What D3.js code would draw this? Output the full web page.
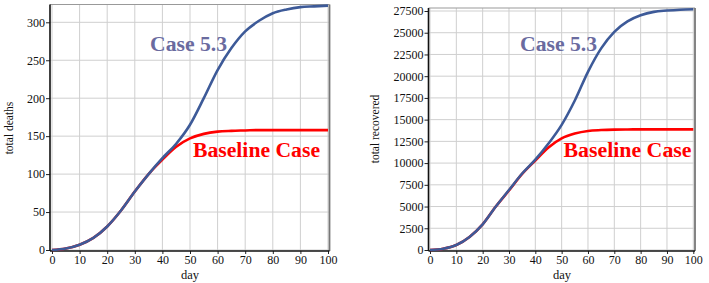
<!DOCTYPE html>
<html>
<head>
<meta charset="utf-8">
<script src="https://cdn.jsdelivr.net/npm/d3@7"></script>
<style>
  body { margin: 0; background: #fff; }
  svg { display: block; }
  .grid line { stroke: #cfcfcf; stroke-width: 1; }
</style>
</head>
<body>
<div class="container"></div>
<script>
const WIDTH = 709;
const HEIGHT = 283;
const SERIF = '"Liberation Serif", "Times New Roman", Times, "DejaVu Serif", serif';

var days = [0, 5, 10, 15, 20, 25, 30, 35, 40, 45, 50, 55, 60, 65, 70, 75, 80, 85, 90, 95, 100];

var deathsCase53 = [0, 2, 7, 16, 31, 52, 77, 100, 121, 140, 165, 200, 237, 266, 288, 302, 312, 317, 320, 321, 322];
var deathsBaseline = [0, 2, 7, 16, 31, 52, 77, 100, 119, 136, 147, 153, 156, 157, 157.5, 158, 158, 158, 158, 158, 158];

var recoveredCase53 = [0, 150, 575, 1500, 2950, 5000, 6900, 8800, 10400, 12250, 14400, 17200, 20500, 23200, 25100, 26300, 27000, 27400, 27550, 27650, 27700];
var recoveredBaseline = [0, 150, 575, 1500, 2950, 5000, 6850, 8750, 10300, 11800, 12850, 13400, 13700, 13800, 13850, 13870, 13880, 13880, 13880, 13880, 13880];

var dayTicks = [0, 10, 20, 30, 40, 50, 60, 70, 80, 90, 100];
var deathTicks = [0, 50, 100, 150, 200, 250, 300];
var recoveredTicks = [0, 2500, 5000, 7500, 10000, 12500, 15000, 17500, 20000, 22500, 25000, 27500];

var translate = function(x, y) {
    return `translate(${x},${y})`;
};

var drawPanel = function(svg, cfg) {
    let xScale = d3.scaleLinear().domain([0, 100]).range(cfg.xRange);
    let yScale = d3.scaleLinear().domain([0, cfg.yMax]).range(cfg.yRange);
    let [bx0, bx1, by0, by1] = cfg.box;

    let g = svg.append('g');

    // grid
    let grid = g.append('g').classed('grid', true);
    grid.selectAll('.gx').data(dayTicks).enter().append('line')
        .attr('x1', d => xScale(d)).attr('x2', d => xScale(d))
        .attr('y1', by0).attr('y2', by1);
    grid.selectAll('.gy').data(cfg.yTicks).enter().append('line')
        .attr('x1', bx0).attr('x2', bx1)
        .attr('y1', d => yScale(d)).attr('y2', d => yScale(d));

    // top / right frame
    g.append('line').attr('x1', bx0).attr('x2', bx1).attr('y1', by0).attr('y2', by0)
        .attr('stroke', '#999').attr('stroke-width', 1);
    g.append('line').attr('x1', bx1).attr('x2', bx1).attr('y1', by0).attr('y2', by1)
        .attr('stroke', '#777').attr('stroke-width', 1.8);

    // axes
    let xAxis = d3.axisBottom(xScale).tickValues(dayTicks).tickSize(3).tickPadding(1).tickSizeOuter(0);
    let yAxis = d3.axisLeft(yScale).tickValues(cfg.yTicks).tickSize(4).tickPadding(1).tickSizeOuter(0)
        .tickFormat(d3.format('d'));

    let xg = g.append('g').attr('transform', translate(0, by1)).call(xAxis)
        .attr('font-family', SERIF).attr('font-size', 12);
    xg.select('.domain').remove();
    xg.selectAll('.tick line').attr('stroke', '#222');
    xg.selectAll('.tick text').attr('fill', '#111');
    g.append('line').attr('x1', bx0).attr('x2', bx1).attr('y1', by1).attr('y2', by1)
        .attr('stroke', '#111').attr('stroke-width', 1.6);

    let yg = g.append('g').attr('transform', translate(bx0, 0)).call(yAxis)
        .attr('font-family', SERIF).attr('font-size', 12);
    yg.select('.domain').remove();
    yg.selectAll('.tick line').attr('stroke', '#222');
    yg.selectAll('.tick text').attr('fill', '#111');
    g.append('line').attr('x1', bx0).attr('x2', bx0).attr('y1', by0).attr('y2', by1)
        .attr('stroke', '#111').attr('stroke-width', 1.6);

    // lines
    let line = d3.line()
        .x((d, i) => xScale(days[i]))
        .y(d => yScale(d))
        .curve(d3.curveMonotoneX);

    g.append('path').attr('d', line(cfg.baseline))
        .attr('fill', 'none').attr('stroke', '#ff0000').attr('stroke-width', 2.6);
    g.append('path').attr('d', line(cfg.case53))
        .attr('fill', 'none').attr('stroke', '#3d5a98').attr('stroke-width', 2.6);

    // titles
    g.append('text')
        .attr('transform', translate(cfg.yTitlePos[0], cfg.yTitlePos[1]) + ' rotate(-90)')
        .attr('text-anchor', 'middle').attr('font-size', 11.5).attr('font-family', SERIF)
        .attr('fill', '#111')
        .text(cfg.yTitle);
    g.append('text')
        .attr('x', cfg.xTitlePos[0]).attr('y', cfg.xTitlePos[1])
        .attr('text-anchor', 'middle').attr('font-size', 12.5).attr('font-family', SERIF)
        .attr('fill', '#111')
        .text('day');

    // series labels
    g.append('text')
        .attr('x', cfg.caseLabel[0]).attr('y', cfg.caseLabel[1])
        .attr('font-family', SERIF).attr('font-weight', 'bold').attr('font-size', 20)
        .attr('textLength', cfg.caseLabel[2]).attr('lengthAdjust', 'spacingAndGlyphs')
        .attr('fill', '#6a6b9f').text('Case 5.3');
    g.append('text')
        .attr('x', cfg.baseLabel[0]).attr('y', cfg.baseLabel[1])
        .attr('font-family', SERIF).attr('font-weight', 'bold').attr('font-size', 20)
        .attr('textLength', cfg.baseLabel[2]).attr('lengthAdjust', 'spacingAndGlyphs')
        .attr('fill', '#ff0000').text('Baseline Case');
};

var fillLayout = function() {
    var svg = d3.select('.container').append('svg')
        .attr('width', WIDTH)
        .attr('height', HEIGHT);

    drawPanel(svg, {
        xRange: [52, 328], yMax: 300, yRange: [250, 22.3],
        box: [50, 329.5, 4.5, 251],
        yTicks: deathTicks,
        case53: deathsCase53, baseline: deathsBaseline,
        yTitle: 'total deaths', yTitlePos: [12.5, 128],
        xTitlePos: [190, 279],
        caseLabel: [150, 50.5, 77], baseLabel: [193, 157, 127]
    });

    drawPanel(svg, {
        xRange: [430, 693.3], yMax: 27500, yRange: [250, 11],
        box: [428.5, 695, 8, 251],
        yTicks: recoveredTicks,
        case53: recoveredCase53, baseline: recoveredBaseline,
        yTitle: 'total recovered', yTitlePos: [379, 129],
        xTitlePos: [562, 279],
        caseLabel: [520, 50.5, 77], baseLabel: [563.5, 157, 128]
    });
};
window.onload = fillLayout;
</script>
</body>
</html>
